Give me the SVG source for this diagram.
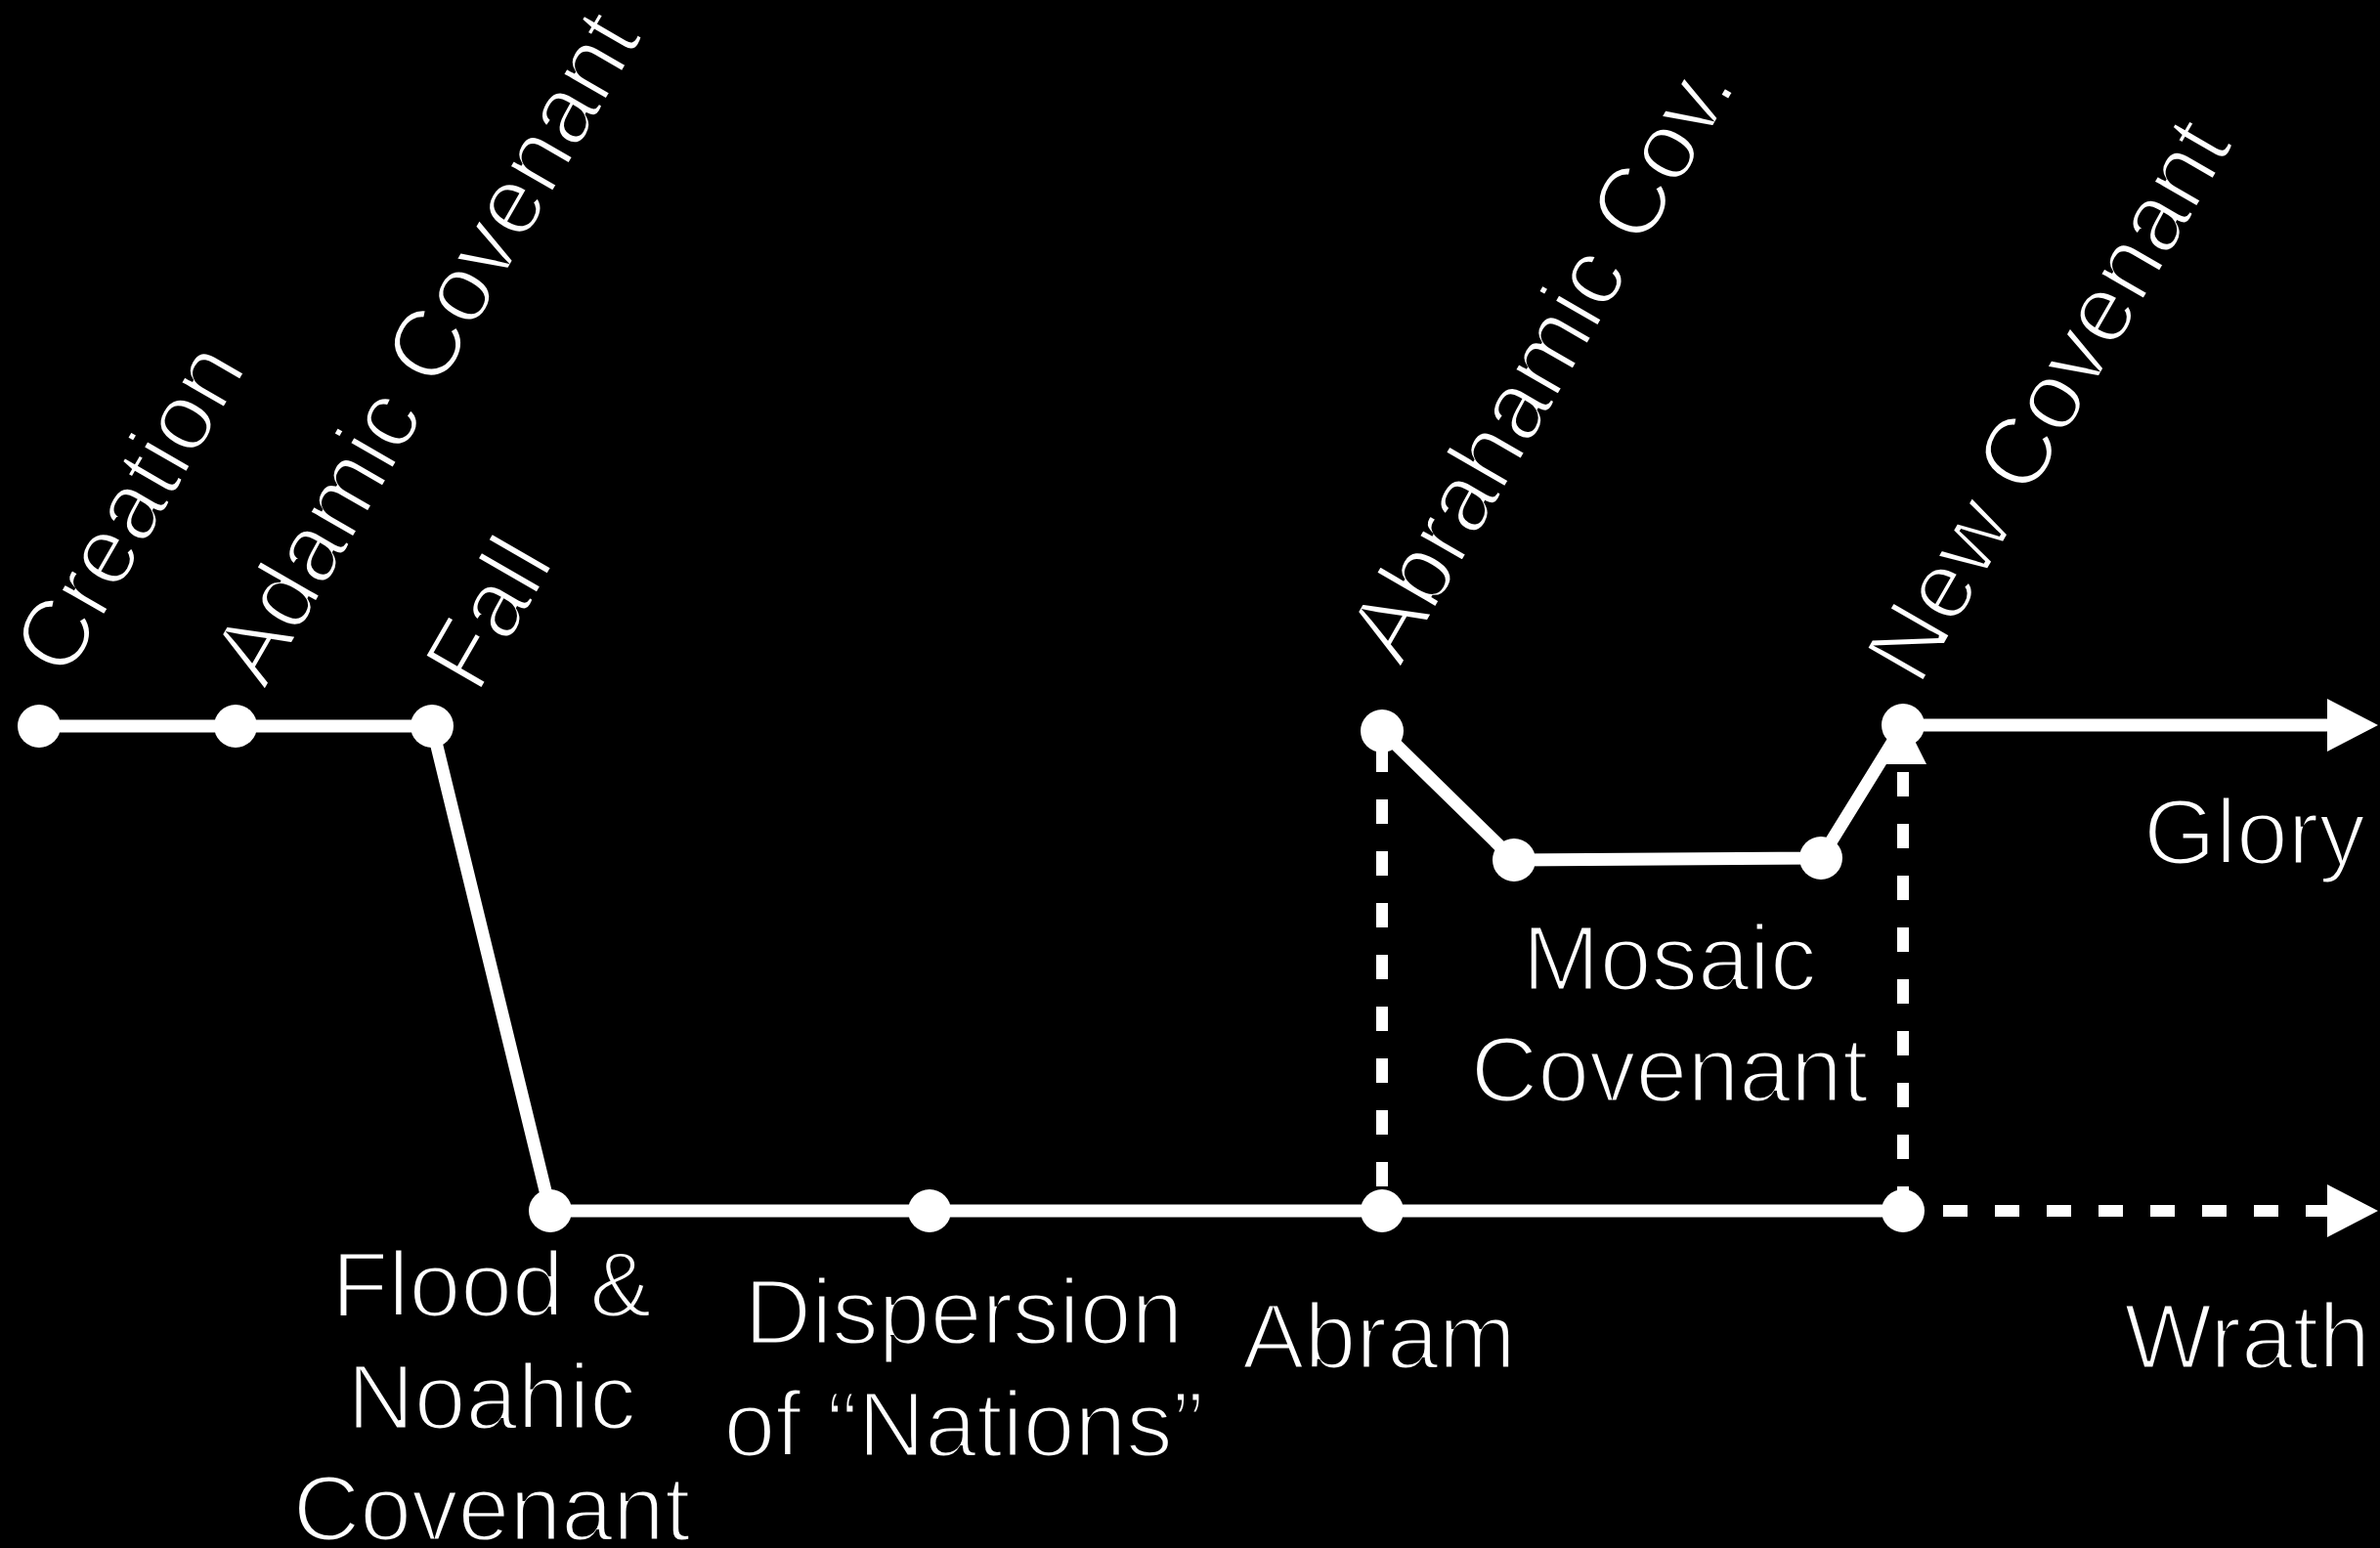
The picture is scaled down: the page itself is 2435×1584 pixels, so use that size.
<svg xmlns="http://www.w3.org/2000/svg" width="2435" height="1584" viewBox="0 0 2435 1584">
<defs>
<style>
.lbl{font-family:"Liberation Sans",Arial,sans-serif;font-size:95px;fill:#fff;stroke:#000;stroke-width:3px}
.rot{font-size:98px}
.mid{text-anchor:middle}
.end{text-anchor:end}
.solid{fill:none;stroke:#fff;stroke-width:13;stroke-linejoin:round}
.dash{fill:none;stroke:#fff;stroke-width:12;stroke-dasharray:25 28}
.dot{fill:#fff}
</style>
<marker id="arrow" viewBox="0 0 52 54" refX="0" refY="27" markerWidth="52" markerHeight="54" markerUnits="userSpaceOnUse" orient="auto">
<path d="M0,0 L52,27 L0,54 Z" fill="#fff"/>
</marker>
<marker id="arrowUp" viewBox="0 0 48 48" refX="0" refY="24" markerWidth="48" markerHeight="48" markerUnits="userSpaceOnUse" orient="auto">
<path d="M0,0 L48,24 L0,48 Z" fill="#fff"/>
</marker>
</defs>
<rect x="0" y="0" width="2435" height="1584" fill="#000"/>
<g id="connectors">
<polyline class="solid" points="40,743 241,743 442,743 563,1239 951,1239 1414,1239 1947,1239"/>
<polyline class="solid" points="1414,748 1549,880 1863,878 1947,742"/>
<path class="solid" d="M1947,742 H2381" marker-end="url(#arrow)"/>
<path class="dash" d="M1414,765 V1239"/>
<path class="dash" d="M1947,1239 V782" marker-end="url(#arrowUp)"/>
<path class="dash" d="M1935,1239 H2381" marker-end="url(#arrow)"/>
</g>
<g id="creation"><circle class="dot" cx="40" cy="743" r="22"/><text class="lbl rot" transform="translate(68,697) rotate(-60)">Creation</text></g>
<g id="adamic"><circle class="dot" cx="241" cy="743" r="22"/><text class="lbl rot" transform="translate(271,707) rotate(-60)">Adamic Covenant</text></g>
<g id="fall"><circle class="dot" cx="442" cy="743" r="22"/><text class="lbl rot" transform="translate(489,712) rotate(-60)">Fall</text></g>
<g id="flood"><circle class="dot" cx="563" cy="1239" r="22"/><text class="lbl mid" x="503" y="1347">Flood &amp;</text><text class="lbl mid" x="503" y="1462">Noahic</text><text class="lbl mid" x="503" y="1576">Covenant</text></g>
<g id="dispersion"><circle class="dot" cx="951" cy="1239" r="22"/><text class="lbl mid" x="986" y="1375">Dispersion</text><text class="lbl mid" x="986" y="1490">of “Nations”</text></g>
<g id="abram"><circle class="dot" cx="1414" cy="1239" r="22"/><text class="lbl mid" x="1411" y="1400">Abram</text></g>
<g id="abrahamic"><circle class="dot" cx="1414" cy="748" r="22"/><text class="lbl rot" transform="translate(1433,684) rotate(-60)">Abrahamic Cov.</text></g>
<g id="mosaic"><circle class="dot" cx="1549" cy="880" r="22"/><circle class="dot" cx="1863" cy="878" r="22"/><text class="lbl mid" x="1708" y="1013">Mosaic</text><text class="lbl mid" x="1708" y="1127">Covenant</text></g>
<g id="newcov"><circle class="dot" cx="1947" cy="742" r="22"/><text class="lbl rot" transform="translate(1964,704) rotate(-60)">New Covenant</text></g>
<g id="new-end"><circle class="dot" cx="1947" cy="1239" r="22"/></g>
<g id="glory"><text class="lbl end" x="2420" y="884">Glory</text></g>
<g id="wrath"><text class="lbl end" x="2425" y="1400">Wrath</text></g>
</svg>
